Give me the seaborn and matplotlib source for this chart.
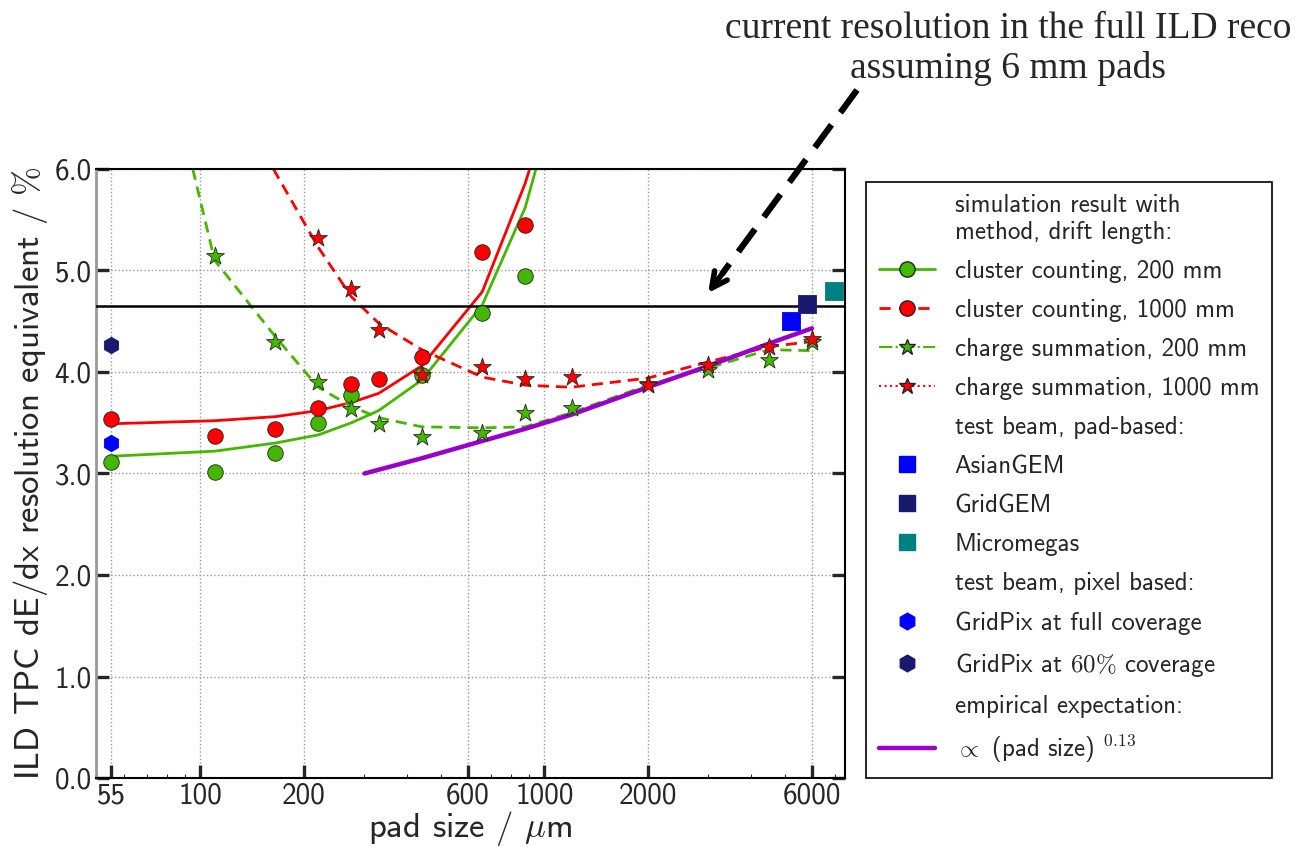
import numpy as np
import pandas as pd
import matplotlib
matplotlib.use("Agg")
import matplotlib.pyplot as plt
import matplotlib.ticker as mticker
from matplotlib.lines import Line2D
import seaborn as sns

# ---------------- data ----------------
cc_x = [55, 110, 165, 220, 275, 330, 440, 660, 880]
cc200_x = [55, 110, 165, 220, 275, 440, 660, 880]
cc200_y = [3.11, 3.01, 3.20, 3.50, 3.77, 3.97, 4.58, 4.95]
cc1000_y = [3.54, 3.37, 3.44, 3.65, 3.88, 3.93, 4.15, 5.18, 5.45]

cs200_x = [110, 165, 220, 275, 330, 440, 660, 880, 1200, 2000, 3000, 4500, 6000]
cs200_y = [5.14, 4.30, 3.90, 3.64, 3.49, 3.36, 3.40, 3.60, 3.65, 3.88, 4.02, 4.12, 4.30]
cs1000_x = [220, 275, 330, 440, 660, 880, 1200, 2000, 3000, 4500, 6000]
cs1000_y = [5.32, 4.82, 4.41, 3.97, 4.05, 3.93, 3.95, 3.87, 4.07, 4.25, 4.33]

# fitted curves
cc_fit_x = [55, 110, 165, 220, 275, 330, 440, 660, 880, 1100]
cc200_fit_y = [3.17, 3.22, 3.30, 3.38, 3.50, 3.62, 3.92, 4.66, 5.62, 6.80]
cc1000_fit_y = [3.49, 3.52, 3.56, 3.62, 3.70, 3.79, 4.06, 4.79, 5.86, 6.90]
cs200_fit_x = [95, 110, 165, 220, 275, 330, 440, 660, 880, 1200, 2000, 3000, 4500, 6000]
cs200_fit_y = [6.00, 5.10, 4.35, 3.85, 3.66, 3.55, 3.46, 3.45, 3.46, 3.60, 3.87, 4.04, 4.22, 4.21]
cs1000_fit_x = [163, 220, 275, 330, 440, 660, 880, 1200, 2000, 3000, 4500, 6000]
cs1000_fit_y = [6.00, 5.23, 4.74, 4.48, 4.22, 3.95, 3.87, 3.85, 3.94, 4.10, 4.25, 4.30]
emp_x = [300, 440, 660, 880, 1200, 2000, 3000, 4500, 6000]
emp_y = [3.00, 3.15, 3.32, 3.44, 3.58, 3.85, 4.06, 4.28, 4.43]

# test beam
tb_names = ["AsianGEM", "GridGEM", "Micromegas"]
tb_x = [5210, 5800, 6950]
tb_y = [4.50, 4.67, 4.80]
gp_names = ["GridPix at full coverage", "GridPix at $60\\%$ coverage"]
gp_x = [55, 55]
gp_y = [3.30, 4.27]

ild_current = 4.65

x_ticks = [55, 100, 200, 600, 1000, 2000, 6000]
y_ticks = [0, 1, 2, 3, 4, 5, 6]

# ---------------- style ----------------
sns.set_style("ticks")
plt.rcParams["font.family"] = ["cmss10", "DejaVu Sans"]
plt.rcParams["mathtext.fontset"] = "cm"
plt.rcParams["axes.unicode_minus"] = False
plt.rcParams["axes.formatter.use_mathtext"] = True

GREEN = "#44b800"
RED = "#ff0000"
PURPLE = "#9900cc"
BLUE = "#0000ff"
NAVY = "#191970"
TEAL = "#008080"

fig = plt.figure(figsize=(12.99, 8.47), dpi=100)
ax = fig.add_axes([96 / 1299, 1 - 778 / 847, (845 - 96) / 1299, (778 - 169) / 847])

# curves
def curve(x, y, color, ls, lw=2.0, z=2):
    d = pd.DataFrame({"x": x, "y": y})
    sns.lineplot(data=d, x="x", y="y", ax=ax, color=color, linestyle=ls,
                 linewidth=lw, estimator=None, sort=False, zorder=z)

curve(cc_fit_x, cc200_fit_y, GREEN, "-")
curve(cc_fit_x, cc1000_fit_y, RED, "-")
curve(cs200_fit_x, cs200_fit_y, GREEN, (0, (4, 2.5)))
curve(cs1000_fit_x, cs1000_fit_y, RED, (0, (4, 2.5)))
curve(emp_x, emp_y, PURPLE, "-", lw=3.2, z=3)

ax.axhline(ild_current, color="black", lw=1.8, zorder=4)

def pts(x, y, color, marker, s, z=5, ec="#222222"):
    d = pd.DataFrame({"x": x, "y": y})
    sns.scatterplot(data=d, x="x", y="y", ax=ax, color=color, marker=marker,
                    s=s, edgecolor=ec, linewidth=0.6, zorder=z, legend=False)

pts(cc200_x, cc200_y, GREEN, "o", 125)
pts(cc_x, cc1000_y, RED, "o", 125)
pts(cs200_x, cs200_y, GREEN, "*", 180, z=6)
pts(cs1000_x, cs1000_y, RED, "*", 180, z=6)
tb_colors = [BLUE, NAVY, TEAL]
for xx, yy, c in zip(tb_x, tb_y, tb_colors):
    pts([xx], [yy], c, "s", 150, z=6, ec=c)
for xx, yy, c in zip(gp_x, gp_y, [BLUE, NAVY]):
    pts([xx], [yy], c, "h", 140, z=6, ec=c)

# axes
ax.set_xscale("log")
ax.set_xlim(49.7, 7490)
ax.set_ylim(0, 6)
ax.set_xticks(x_ticks)
ax.set_xticklabels([str(t) for t in x_ticks])
ax.xaxis.set_minor_locator(mticker.LogLocator(base=10, subs=np.arange(2, 10)))
ax.xaxis.set_minor_formatter(mticker.NullFormatter())
ax.set_yticks(y_ticks)
ax.yaxis.set_major_formatter(mticker.FormatStrFormatter("%.1f"))

ax.tick_params(axis="y", which="major", direction="in", length=9.5, width=2.4,
               left=True, right=True, labelsize=21, pad=3)
ax.tick_params(axis="x", which="major", direction="in", length=9.5, width=2.4,
               top=False, labelsize=21, pad=3)
ax.tick_params(axis="x", which="minor", direction="in", length=3, width=0.8, top=False)

ax.grid(True, which="major", linestyle=":", color="#999999", linewidth=1.0)
for side in ["top", "right", "bottom"]:
    ax.spines[side].set_color("black")
    ax.spines[side].set_linewidth(1.5)
ax.spines["left"].set_color("#999999")
ax.spines["left"].set_linewidth(2.0)

ax.set_xlabel("pad size / $\\mu$m", fontsize=25, labelpad=0)
ax.set_ylabel("ILD TPC dE/dx resolution equivalent / $\\%$", fontsize=25, labelpad=3)

# legend
blank = Line2D([], [], linestyle="none", marker=None)
handles = [
    blank,
    Line2D([], [], color=GREEN, ls="-", lw=2, marker="o", mfc=GREEN, mec="#222222", ms=11),
    Line2D([], [], color=RED, ls=(0, (4, 3)), lw=2, marker="o", mfc=RED, mec="#222222", ms=11),
    Line2D([], [], color=GREEN, ls="-.", lw=1.5, marker="*", mfc=GREEN, mec="#222222", ms=12),
    Line2D([], [], color=RED, ls=":", lw=1.5, marker="*", mfc=RED, mec="#222222", ms=12),
    blank,
    Line2D([], [], ls="none", marker="s", mfc=BLUE, mec=BLUE, ms=12),
    Line2D([], [], ls="none", marker="s", mfc=NAVY, mec=NAVY, ms=12),
    Line2D([], [], ls="none", marker="s", mfc=TEAL, mec=TEAL, ms=12),
    blank,
    Line2D([], [], ls="none", marker="h", mfc=BLUE, mec=BLUE, ms=12),
    Line2D([], [], ls="none", marker="h", mfc=NAVY, mec=NAVY, ms=12),
    blank,
    Line2D([], [], color=PURPLE, lw=3.2),
]
labels = [
    "simulation result with\nmethod, drift length:",
    "cluster counting, 200 mm",
    "cluster counting, 1000 mm",
    "charge summation, 200 mm",
    "charge summation, 1000 mm",
    "test beam, pad-based:",
    tb_names[0], tb_names[1], tb_names[2],
    "test beam, pixel based:",
    gp_names[0], gp_names[1],
    "empirical expectation:",
    "$\\propto$ (pad size) $^{0.13}$",
]
leg = fig.legend(handles, labels, loc="upper left",
                 bbox_to_anchor=(866 / 1299, 1 - 182 / 847),
                 fontsize=18, frameon=True, fancybox=False, framealpha=1,
                 edgecolor="black", handlelength=2.25, handletextpad=0.8,
                 labelspacing=0.64, borderpad=0.5, borderaxespad=0,
                 numpoints=1)
leg.get_frame().set_linewidth(1.2)

# annotation
fig.text(1008 / 1299, 1 - 49 / 847,
         "current resolution in the full ILD reco\nassuming 6 mm pads",
         family="Liberation Serif", fontsize=27, ha="center", va="center",
         linespacing=1.2)
tip = (708 / 1299, 1 - 293 / 847)
start = (857 / 1299, 1 - 90 / 847)
pre = (722 / 1299, 1 - 274 / 847)
fig.add_artist(Line2D([start[0], pre[0]], [start[1], pre[1]],
                      transform=fig.transFigure, color="black", lw=4.5,
                      linestyle=(0, (4.5, 2.4)), solid_capstyle="butt"))
ax.annotate("", xy=tip, xycoords="figure fraction", xytext=pre,
            textcoords="figure fraction",
            arrowprops=dict(arrowstyle="->", lw=4.0, color="black",
                            mutation_scale=28, shrinkA=0, shrinkB=0))

fig.savefig("out.png", dpi=100)
